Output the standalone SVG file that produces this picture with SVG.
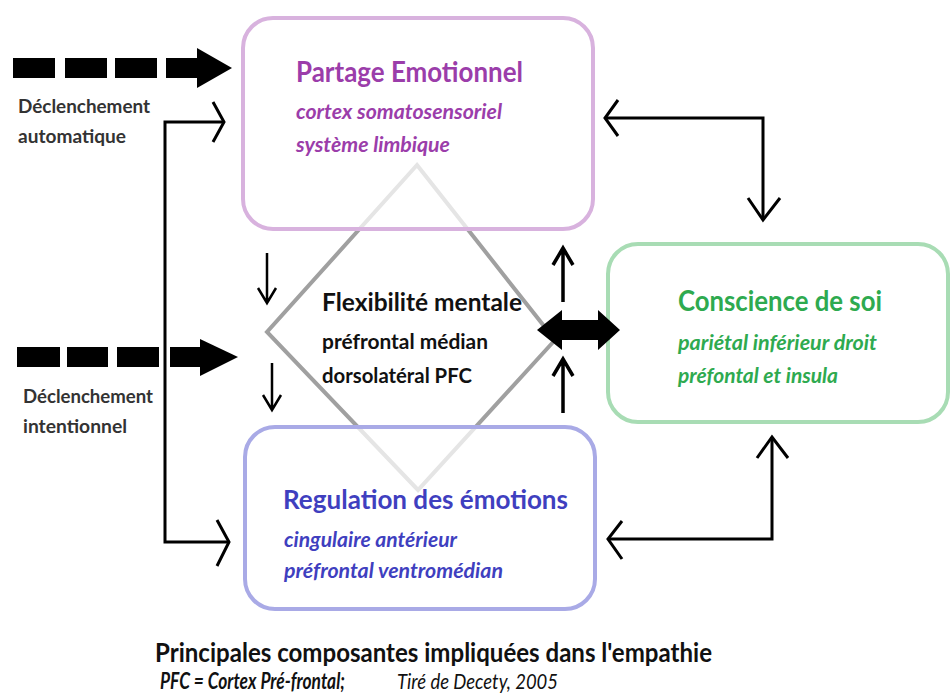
<svg xmlns="http://www.w3.org/2000/svg" width="951" height="700" viewBox="0 0 951 700">
<style>
text{font-family:Lato,"Open Sans","Liberation Sans",sans-serif}
.box{fill:#ffffff;fill-opacity:0.72;stroke-width:4}
.ttl{font-weight:bold}
.sub{font-weight:bold;font-style:italic}
.lbl{fill:#333333;font-size:19px;font-weight:bold}
.ln{fill:none;stroke:#000;stroke-width:3;stroke-linejoin:miter;stroke-linecap:butt}
.thin{fill:none;stroke:#000;stroke-width:2.5}
.thick{fill:none;stroke:#000;stroke-width:3.5}
</style>
<rect width="951" height="700" fill="#ffffff"/>
<g id="flexibilite">
<polygon points="417,165 555,340 418,490 267,332" fill="none" stroke="#a0a0a0" stroke-width="4"/>
</g>
<g id="partage">
<rect class="box" x="243" y="18" width="350" height="211" rx="30" stroke="#d8b2de"/>
<text class="ttl" x="296" y="82" font-size="28" fill="#9b3daa" textLength="227" lengthAdjust="spacingAndGlyphs">Partage Emotionnel</text>
<text class="sub" x="296" y="119" font-size="20" fill="#9b3daa" textLength="206" lengthAdjust="spacingAndGlyphs">cortex somatosensoriel</text>
<text class="sub" x="296" y="152" font-size="20" fill="#9b3daa" textLength="154" lengthAdjust="spacingAndGlyphs">système limbique</text>
</g>
<g id="regulation">
<rect class="box" x="245" y="427" width="350" height="182" rx="30" stroke="#a9aae6"/>
<text class="ttl" x="283" y="509" font-size="27" fill="#3f3fbf" textLength="285" lengthAdjust="spacingAndGlyphs">Regulation des émotions</text>
<text class="sub" x="284" y="547" font-size="20" fill="#3f3fbf" textLength="173" lengthAdjust="spacingAndGlyphs">cingulaire antérieur</text>
<text class="sub" x="284" y="578" font-size="20" fill="#3f3fbf" textLength="219" lengthAdjust="spacingAndGlyphs">préfrontal ventromédian</text>
</g>
<g id="conscience">
<rect class="box" x="608" y="244" width="340" height="178" rx="30" stroke="#a8dcb4"/>
<text class="ttl" x="678" y="311" font-size="29" fill="#2eaa4f" textLength="204" lengthAdjust="spacingAndGlyphs">Conscience de soi</text>
<text class="sub" x="678" y="350" font-size="20" fill="#2eaa4f" textLength="199" lengthAdjust="spacingAndGlyphs">pariétal inférieur droit</text>
<text class="sub" x="678" y="383" font-size="20" fill="#2eaa4f" textLength="160" lengthAdjust="spacingAndGlyphs">préfontal et insula</text>
</g>
<g id="flexibilite-text">
<text class="ttl" x="322" y="311" font-size="24" fill="#111" textLength="200" lengthAdjust="spacingAndGlyphs">Flexibilité mentale</text>
<text class="ttl" x="322" y="349" font-size="21" fill="#111" textLength="166" lengthAdjust="spacingAndGlyphs">préfrontal médian</text>
<text class="ttl" x="322" y="383" font-size="21" fill="#111" textLength="150" lengthAdjust="spacingAndGlyphs">dorsolatéral PFC</text>
</g>
<g id="declenchement-auto">
<text class="lbl" x="18" y="113" textLength="132" lengthAdjust="spacingAndGlyphs">Déclenchement</text>
<text class="lbl" x="18" y="143" textLength="108" lengthAdjust="spacingAndGlyphs">automatique</text>
</g>
<g id="declenchement-int">
<text class="lbl" x="23" y="403" textLength="130" lengthAdjust="spacingAndGlyphs">Déclenchement</text>
<text class="lbl" x="23" y="433" textLength="104" lengthAdjust="spacingAndGlyphs">intentionnel</text>
</g>
<g id="connectors">
<g fill="#000">
<rect x="13" y="58" width="42" height="20"/>
<rect x="65" y="58" width="42" height="20"/>
<rect x="115" y="58" width="42" height="20"/>
<rect x="166" y="58" width="34" height="20"/>
<polygon points="197,48 232,68 197,88"/>
<rect x="17" y="347" width="43" height="20"/>
<rect x="67" y="347" width="41" height="20"/>
<rect x="117" y="347" width="42" height="20"/>
<rect x="170" y="347" width="32" height="20"/>
<polygon points="200,339 238,357 200,376"/>
<polygon points="537,330 562,310 562,320 598,320 598,310 620,330 598,350 598,340 562,340 562,350"/>
</g>
<path class="ln" d="M224,122 H165 V542 H228"/>
<path class="ln" d="M213,102 L224,122 L213,142"/>
<path class="ln" d="M217,520 L229,542 L217,566"/>
<path class="ln" d="M605,118 H763 V220"/>
<path class="ln" d="M618,100 L605,118 L618,136"/>
<path class="ln" d="M748,198 L763,220 L780,198"/>
<path class="ln" d="M608,539 H772 V437"/>
<path class="ln" d="M622,521 L608,539 L622,559"/>
<path class="ln" d="M757,458 L772,437 L788,458"/>
<path class="thin" d="M267,253 V302 M258,288 L267,303 L276,288"/>
<path class="thin" d="M272,363 V409 M263,395 L272,410 L281,395"/>
<path class="thick" d="M563,302 V249 M553,265 L563,248 L573,265"/>
<path class="thick" d="M563,413 V360 M553,376 L563,359 L573,376"/>
</g>
<g id="caption">
<text x="155" y="662" font-size="26" font-weight="bold" fill="#111" textLength="557" lengthAdjust="spacingAndGlyphs">Principales composantes impliquées dans l'empathie</text>
<text x="160" y="689" font-size="22" font-weight="bold" font-style="italic" fill="#111" textLength="185" lengthAdjust="spacingAndGlyphs">PFC = Cortex Pré-frontal;</text>
<text x="397" y="689" font-size="22" font-style="italic" fill="#111" textLength="161" lengthAdjust="spacingAndGlyphs">Tiré de Decety, 2005</text>
</g>
</svg>
